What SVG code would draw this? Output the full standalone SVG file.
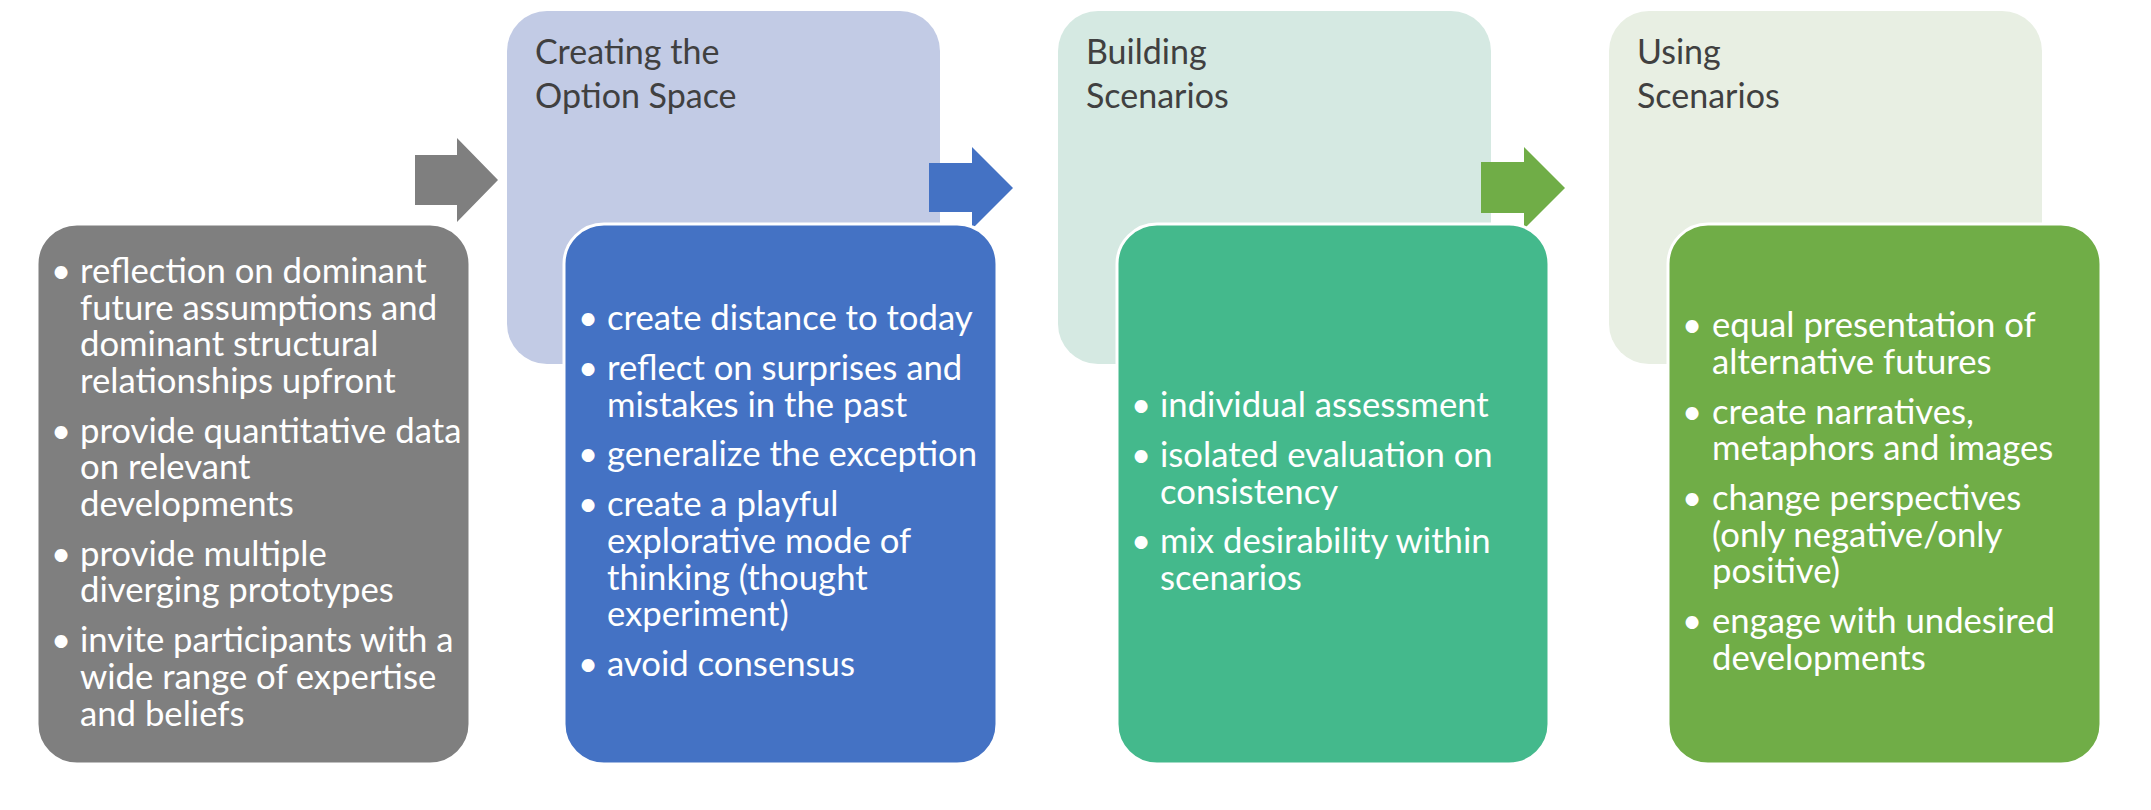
<svg xmlns="http://www.w3.org/2000/svg" width="2151" height="810" viewBox="0 0 2151 810">
  <style>
    .hdr { font-family: Lato, "Liberation Sans", sans-serif; font-size: 34px; fill: #404040; }
    .body { font-family: Lato, "Liberation Sans", sans-serif; font-size: 34.7px; fill: #ffffff; }
    .bul { font-family: Lato, "Liberation Sans", sans-serif; font-size: 34.7px; fill: #ffffff; text-anchor: middle; }
    .box { stroke: #ffffff; stroke-width: 3; }
  </style>
  <rect width="2151" height="810" fill="#ffffff"/>

  <g id="header-option-space">
    <rect x="507" y="11" width="433" height="353" rx="40" fill="#c2cbe5"/>
    <text class="hdr" x="535" y="64">Creating the<tspan x="535" y="108">Option Space</tspan></text>
  </g>
  <g id="header-building">
    <rect x="1058" y="11" width="433" height="353" rx="40" fill="#d5e9e2"/>
    <text class="hdr" x="1086" y="64">Building<tspan x="1086" y="108">Scenarios</tspan></text>
  </g>
  <g id="header-using">
    <rect x="1609" y="11" width="433" height="353" rx="40" fill="#e8efe3"/>
    <text class="hdr" x="1637" y="64">Using<tspan x="1637" y="108">Scenarios</tspan></text>
  </g>

  <g id="connectors">
    <polygon points="415,155 457,155 457,138 498,180 457,222 457,205 415,205" fill="#7f7f7f"/>
    <polygon points="929,163 972,163 972,147 1013,188 972,229 972,212 929,212" fill="#4472c4"/>
    <polygon points="1481,162 1524,162 1524,147 1565,188 1524,229 1524,213 1481,213" fill="#70ad47"/>
  </g>

  <g id="box-preparation">
    <rect class="box" x="37" y="224" width="433" height="540" rx="40" fill="#7f7f7f"/>
    <text class="bul" x="61" y="283">•</text>
    <text class="body" x="80" y="283">reflection on dominant<tspan x="80" y="319.6">future assumptions and</tspan><tspan x="80" y="356.2">dominant structural</tspan><tspan x="80" y="392.8">relationships upfront</tspan></text>
    <text class="bul" x="61" y="442.7">•</text>
    <text class="body" x="80" y="442.7">provide quantitative data<tspan x="80" y="479.3">on relevant</tspan><tspan x="80" y="515.9">developments</tspan></text>
    <text class="bul" x="61" y="565.8">•</text>
    <text class="body" x="80" y="565.8">provide multiple<tspan x="80" y="602.4">diverging prototypes</tspan></text>
    <text class="bul" x="61" y="652.3">•</text>
    <text class="body" x="80" y="652.3">invite participants with a<tspan x="80" y="688.9">wide range of expertise</tspan><tspan x="80" y="725.5">and beliefs</tspan></text>
  </g>

  <g id="box-option-space">
    <rect class="box" x="564" y="224" width="433" height="540" rx="40" fill="#4472c4"/>
    <text class="bul" x="588" y="330">•</text>
    <text class="body" x="607" y="330">create distance to today</text>
    <text class="bul" x="588" y="379.9">•</text>
    <text class="body" x="607" y="379.9">reflect on surprises and<tspan x="607" y="416.5">mistakes in the past</tspan></text>
    <text class="bul" x="588" y="466.4">•</text>
    <text class="body" x="607" y="466.4">generalize the exception</text>
    <text class="bul" x="588" y="516.3">•</text>
    <text class="body" x="607" y="516.3">create a playful<tspan x="607" y="552.9">explorative mode of</tspan><tspan x="607" y="589.5">thinking (thought</tspan><tspan x="607" y="626.1">experiment)</tspan></text>
    <text class="bul" x="588" y="676">•</text>
    <text class="body" x="607" y="676">avoid consensus</text>
  </g>

  <g id="box-building">
    <rect class="box" x="1117" y="224" width="432" height="540" rx="40" fill="#44b98c"/>
    <text class="bul" x="1141" y="417">•</text>
    <text class="body" x="1160" y="417">individual assessment</text>
    <text class="bul" x="1141" y="466.9">•</text>
    <text class="body" x="1160" y="466.9">isolated evaluation on<tspan x="1160" y="503.5">consistency</tspan></text>
    <text class="bul" x="1141" y="553.4">•</text>
    <text class="body" x="1160" y="553.4">mix desirability within<tspan x="1160" y="590">scenarios</tspan></text>
  </g>

  <g id="box-using">
    <rect class="box" x="1668" y="224" width="433" height="540" rx="40" fill="#70ad47"/>
    <text class="bul" x="1692" y="337">•</text>
    <text class="body" x="1712" y="337">equal presentation of<tspan x="1712" y="373.6">alternative futures</tspan></text>
    <text class="bul" x="1692" y="423.5">•</text>
    <text class="body" x="1712" y="423.5">create narratives,<tspan x="1712" y="460.1">metaphors and images</tspan></text>
    <text class="bul" x="1692" y="510">•</text>
    <text class="body" x="1712" y="510">change perspectives<tspan x="1712" y="546.6">(only negative/only</tspan><tspan x="1712" y="583.2">positive)</tspan></text>
    <text class="bul" x="1692" y="633.1">•</text>
    <text class="body" x="1712" y="633.1">engage with undesired<tspan x="1712" y="669.7">developments</tspan></text>
  </g>
</svg>
